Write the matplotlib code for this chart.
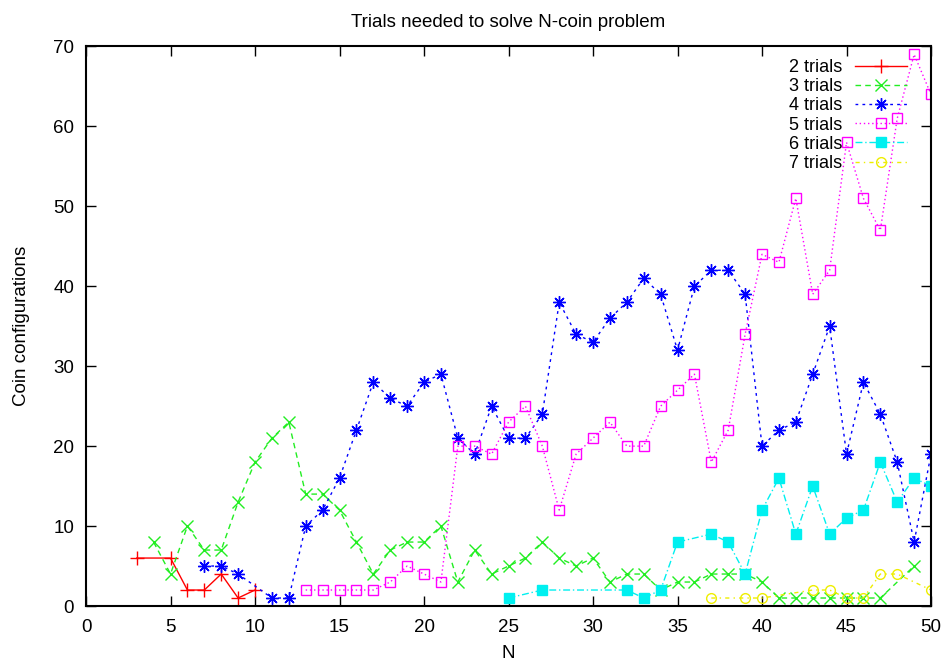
import matplotlib
matplotlib.use("Agg")
from matplotlib import pyplot as plt

plt.rcParams['font.family'] = ['Liberation Sans', 'DejaVu Sans']

# ---- data: N values and number of coin configurations per trial count ----
n2 = [3, 5, 6, 7, 8, 9, 10]
v2 = [6, 6, 2, 2, 4, 1, 2]

n3 = [4, 5, 6, 7, 8, 9, 10, 11, 12, 13, 14, 15, 16, 17, 18, 19, 20, 21, 22, 23,
      24, 25, 26, 27, 28, 29, 30, 31, 32, 33, 34, 35, 36, 37, 38, 39, 40, 41,
      42, 43, 44, 45, 46, 47, 49]
v3 = [8, 4, 10, 7, 7, 13, 18, 21, 23, 14, 14, 12, 8, 4, 7, 8, 8, 10, 3, 7,
      4, 5, 6, 8, 6, 5, 6, 3, 4, 4, 2, 3, 3, 4, 4, 4, 3, 1,
      1, 1, 1, 1, 1, 1, 5]

n4 = [7, 8, 9, 11, 12, 13, 14, 15, 16, 17, 18, 19, 20, 21, 22, 23, 24, 25, 26,
      27, 28, 29, 30, 31, 32, 33, 34, 35, 36, 37, 38, 39, 40, 41, 42, 43, 44,
      45, 46, 47, 48, 49, 50]
v4 = [5, 5, 4, 1, 1, 10, 12, 16, 22, 28, 26, 25, 28, 29, 21, 19, 25, 21, 21,
      24, 38, 34, 33, 36, 38, 41, 39, 32, 40, 42, 42, 39, 20, 22, 23, 29, 35,
      19, 28, 24, 18, 8, 19]

n5 = [13, 14, 15, 16, 17, 18, 19, 20, 21, 22, 23, 24, 25, 26, 27, 28, 29, 30,
      31, 32, 33, 34, 35, 36, 37, 38, 39, 40, 41, 42, 43, 44, 45, 46, 47, 48,
      49, 50]
v5 = [2, 2, 2, 2, 2, 3, 5, 4, 3, 20, 20, 19, 23, 25, 20, 12, 19, 21,
      23, 20, 20, 25, 27, 29, 18, 22, 34, 44, 43, 51, 39, 42, 58, 51, 47, 61,
      69, 64]

n6 = [25, 27, 32, 33, 34, 35, 37, 38, 39, 40, 41, 42, 43, 44, 45, 46, 47, 48,
      49, 50]
v6 = [1, 2, 2, 1, 2, 8, 9, 8, 4, 12, 16, 9, 15, 9, 11, 12, 18, 13, 16, 15]

n7 = [37, 39, 40, 43, 44, 45, 46, 47, 48, 50]
v7 = [1, 1, 1, 2, 2, 1, 1, 4, 4, 2]

asterisk = (8, 2, 0)

series = [
    (n2, v2, "2 trials", "#ff0000", "-", "+", dict(ms=10)),
    (n3, v3, "3 trials", "#22ee22", (0, (4, 3)), "x", dict(ms=8)),
    (n4, v4, "4 trials", "#0000ff", (0, (2, 3)), asterisk, dict(ms=9)),
    (n5, v5, "5 trials", "#ff00ff", (0, (1, 2)), "s", dict(ms=7, mfc="none")),
    (n6, v6, "6 trials", "#00f0f0", (0, (5, 2, 1, 2)), "s", dict(ms=7)),
    (n7, v7, "7 trials", "#eeee00", (0, (3, 3, 1, 3)), "o", dict(ms=7, mfc="none")),
]

fig = plt.figure(figsize=(9.41, 6.61), dpi=100)
ax = fig.add_axes([0.0914, 0.0832, 0.8980, 0.8465])

for xs, ys, label, color, ls, marker, kw in series:
    ax.plot(xs, ys, color=color, linestyle=ls, linewidth=1.0,
            marker=marker, markeredgewidth=1.0, label=label, **kw)

ax.set_xlim(0, 50)
ax.set_ylim(0, 70)
ax.set_xticks(range(0, 51, 5))
ax.set_yticks(range(0, 71, 10))
ax.tick_params(direction="in", length=7, width=1, top=True, right=True,
               labelsize=13.5)
ax.tick_params(axis="x", pad=9)
ax.tick_params(axis="y", pad=8.5)
for sp in ax.spines.values():
    sp.set_linewidth(1.5)

ax.set_title("Trials needed to solve N-coin problem", fontsize=13.5, pad=14)
ax.set_xlabel("N", fontsize=13.5, labelpad=7)
ax.set_ylabel("Coin configurations", fontsize=13.5, labelpad=17)

ax.legend(loc="upper right", bbox_to_anchor=(0.987, 1.0), frameon=False,
          markerfirst=False, fontsize=13, handlelength=2.9,
          labelspacing=0.12, borderpad=0.2, handletextpad=0.7)

fig.savefig("out.png", dpi=100)
